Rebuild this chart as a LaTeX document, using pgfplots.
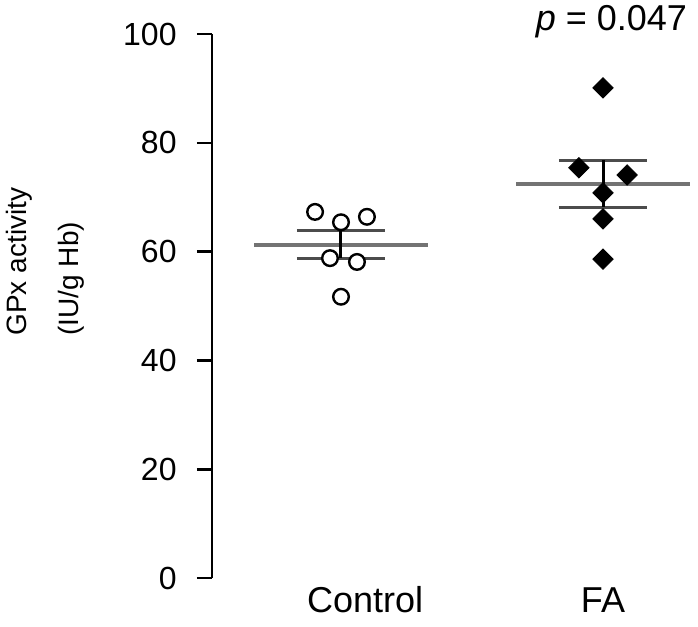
\documentclass[border=0pt]{standalone}
\usepackage{fontspec}
\setmainfont{Liberation Sans}
\usepackage{pgfplots}
\pgfplotsset{compat=1.18}

\pgfplotstableread{
x y
0.901 67.3
1.000 65.4
1.099 66.4
0.958 58.8
1.061 58.1
1.000 51.7
}\ctrl
\pgfplotstableread{
x y
2.000 90.1
1.908 75.4
2.092 74.1
2.000 70.8
2.000 66.0
2.000 58.6
}\fa

\begin{document}
\begin{tikzpicture}
\begin{axis}[
  scale only axis,
  width=243pt, height=272pt,
  xmin=0.5076, xmax=2.3626,
  ymin=0, ymax=100,
  clip=false,
  axis y line=left, axis x line=bottom,
  x axis line style={draw=none},
  y axis line style={-, line width=1.3pt},
  xtick=\empty,
  ytick={0,20,...,100},
  tick align=outside,
  major tick length=7.5pt,
  ytick style={line width=1.3pt, black},
  yticklabel style={font=\fontsize{16}{18}\selectfont, anchor=east, inner sep=0pt, xshift=-10pt},
  /pgf/number format/assume math mode=true,
]
% means
\addplot[black!55, line width=2pt] coordinates {(0.668,61.3) (1.332,61.3)};
\addplot[black!55, line width=2pt] coordinates {(1.668,72.5) (2.332,72.5)};
% SEM caps
\addplot[black!70, line width=1.5pt] coordinates {(0.832,63.8) (1.168,63.8)};
\addplot[black!70, line width=1.5pt] coordinates {(0.832,58.8) (1.168,58.8)};
\addplot[black!70, line width=1.5pt] coordinates {(1.832,76.8) (2.168,76.8)};
\addplot[black!70, line width=1.5pt] coordinates {(1.832,68.2) (2.168,68.2)};
\addplot[black, line width=1.5pt] coordinates {(1,58.8) (1,63.8)};
\addplot[black, line width=1.5pt] coordinates {(2,68.2) (2,76.8)};
% points
\addplot[only marks, mark=*, mark size=3.9pt, mark options={fill=white, draw=black, line width=1.2pt}] table[x=x,y=y] {\ctrl};
\addplot[only marks, mark=square*, mark size=3.6pt, mark options={fill=black, draw=black, rotate=45}] table[x=x,y=y] {\fa};

\node[anchor=base, font=\fontsize{18}{20}\selectfont] at (axis cs:1.092,-6.25) {Control};
\node[anchor=base, font=\fontsize{18}{20}\selectfont] at (axis cs:2.0,-6.25) {FA};
\node[anchor=base, font=\fontsize{18}{20}\selectfont] at (axis cs:2.032,100.7) {\textit{p} = 0.047};
\node[rotate=90, anchor=north west, align=left, inner sep=0pt, font=\fontsize{14}{26}\selectfont] at (axis cs:-0.2786,44.5) {GPx activity\\(IU/g Hb)};

\coordinate (bbll) at (axis cs:-0.3015,-9);
\coordinate (bbur) at (axis cs:2.3626,106.25);
\end{axis}
\pgfresetboundingbox
\path[use as bounding box] (bbll) rectangle (bbur);
\end{tikzpicture}
\end{document}
